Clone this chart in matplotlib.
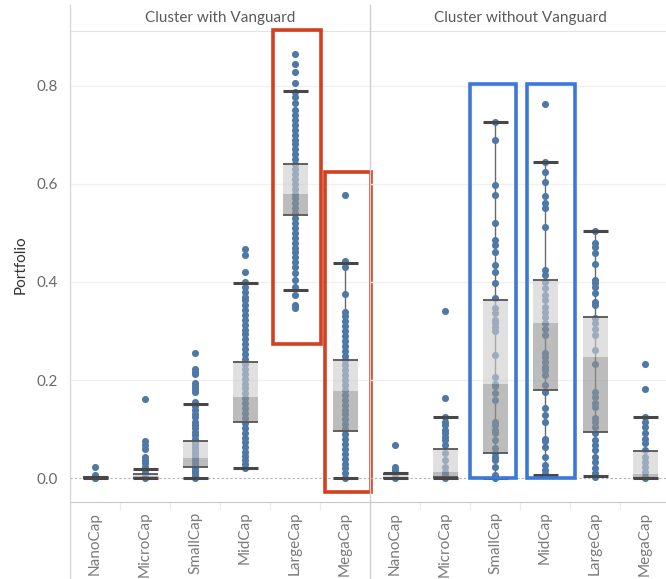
import matplotlib
matplotlib.use("Agg")
import matplotlib.pyplot as plt
from matplotlib.lines import Line2D
from matplotlib.patches import Rectangle

plt.rcParams['font.family'] = ['Lato', 'DejaVu Sans']

categories = ["NanoCap", "MicroCap", "SmallCap", "MidCap", "LargeCap", "MegaCap"]
panels = ["Cluster with Vanguard", "Cluster without Vanguard"]

# ---- Cluster with Vanguard: individual portfolio weights ----
with_nano = [0.022, 0.007, 0.002, 0.0, 0.0]
with_micro = [0.161, 0.075, 0.068, 0.059, 0.044, 0.037, 0.031, 0.024, 0.017, 0.010, 0.003, 0.0]
with_small = [0.255, 0.222, 0.217, 0.212, 0.195, 0.188, 0.182, 0.176, 0.156, 0.148, 0.139,
              0.131, 0.125, 0.115, 0.108, 0.102, 0.095, 0.088, 0.081, 0.075, 0.071, 0.066,
              0.061, 0.056, 0.051, 0.046, 0.041, 0.036, 0.031, 0.026, 0.020, 0.015, 0.010,
              0.005, 0.0]
with_mid = [0.468, 0.455, 0.421, 0.400, 0.390, 0.380, 0.370, 0.363, 0.353, 0.343, 0.333,
            0.323, 0.313, 0.303, 0.293, 0.283, 0.273, 0.263, 0.253, 0.243, 0.233, 0.223,
            0.213, 0.203, 0.193, 0.183, 0.173, 0.163, 0.153, 0.143, 0.133, 0.123, 0.113,
            0.103, 0.093, 0.083, 0.073, 0.063, 0.053, 0.045, 0.037, 0.029, 0.020]
with_large = [0.864, 0.844, 0.828, 0.806, 0.787, 0.777, 0.764, 0.750, 0.740, 0.730, 0.720,
              0.710, 0.700, 0.690, 0.680, 0.670, 0.660, 0.650, 0.640, 0.630, 0.620, 0.610,
              0.600, 0.590, 0.580, 0.570, 0.560, 0.550, 0.540, 0.530, 0.520, 0.510, 0.500,
              0.490, 0.480, 0.470, 0.460, 0.450, 0.440, 0.430, 0.418, 0.404, 0.390, 0.373,
              0.353, 0.347]
with_mega = [0.578, 0.443, 0.430, 0.375, 0.339, 0.330, 0.320, 0.310, 0.300, 0.290, 0.280,
             0.270, 0.260, 0.250, 0.240, 0.230, 0.220, 0.210, 0.200, 0.190, 0.180, 0.170,
             0.160, 0.150, 0.140, 0.130, 0.120, 0.110, 0.100, 0.090, 0.080, 0.070, 0.060,
             0.050, 0.040, 0.030, 0.020, 0.010, 0.0]

# ---- Cluster without Vanguard ----
without_nano = [0.068, 0.024, 0.017, 0.010, 0.003, 0.0]
without_micro = [0.341, 0.164, 0.125, 0.115, 0.108, 0.098, 0.092, 0.085, 0.078, 0.068,
                 0.051, 0.037, 0.024, 0.013, 0.007, 0.0]
without_small = [0.726, 0.690, 0.597, 0.576, 0.519, 0.485, 0.475, 0.461, 0.434, 0.421,
                 0.397, 0.367, 0.346, 0.336, 0.322, 0.316, 0.309, 0.299, 0.251, 0.207,
                 0.193, 0.187, 0.173, 0.159, 0.115, 0.108, 0.098, 0.092, 0.078, 0.061,
                 0.051, 0.044, 0.037, 0.024, 0.007, 0.0]
without_mid = [0.762, 0.645, 0.624, 0.604, 0.574, 0.560, 0.550, 0.511, 0.424, 0.414, 0.400,
               0.387, 0.373, 0.363, 0.349, 0.339, 0.329, 0.316, 0.305, 0.292, 0.255, 0.248,
               0.237, 0.227, 0.221, 0.210, 0.190, 0.176, 0.143, 0.129, 0.115, 0.081, 0.075,
               0.064, 0.044, 0.027, 0.017, 0.008]
without_large = [0.504, 0.479, 0.472, 0.458, 0.436, 0.404, 0.397, 0.390, 0.377, 0.360,
                 0.353, 0.326, 0.316, 0.305, 0.292, 0.261, 0.233, 0.176, 0.166, 0.153,
                 0.146, 0.122, 0.115, 0.105, 0.092, 0.078, 0.068, 0.058, 0.044, 0.034,
                 0.020, 0.010, 0.003]
without_mega = [0.232, 0.182, 0.125, 0.115, 0.105, 0.092, 0.081, 0.071, 0.058, 0.044,
                0.034, 0.024, 0.013, 0.003, 0.0]

with_points = [with_nano, with_micro, with_small, with_mid, with_large, with_mega]
without_points = [without_nano, without_micro, without_small, without_mid, without_large, without_mega]

# box statistics
with_whislo = [0.0, 0.0, 0.0, 0.020, 0.383, 0.0]
with_q1 = [0.0, 0.0, 0.024, 0.114, 0.536, 0.097]
with_med = [0.001, 0.004, 0.041, 0.165, 0.580, 0.178]
with_q3 = [0.002, 0.009, 0.075, 0.236, 0.640, 0.241]
with_whishi = [0.003, 0.018, 0.151, 0.398, 0.789, 0.439]

without_whislo = [0.0, 0.0, 0.0, 0.007, 0.005, 0.0]
without_q1 = [0.0, 0.002, 0.051, 0.180, 0.095, 0.0]
without_med = [0.003, 0.013, 0.193, 0.316, 0.248, 0.009]
without_q3 = [0.008, 0.060, 0.363, 0.404, 0.329, 0.056]
without_whishi = [0.010, 0.124, 0.726, 0.645, 0.504, 0.124]

yticks = [0.0, 0.2, 0.4, 0.6, 0.8]
ytick_labels = ["0.0", "0.2", "0.4", "0.6", "0.8"]

W, H = 666, 579
fig = plt.figure(figsize=(W / 100, H / 100), dpi=100)
fig.patch.set_facecolor("white")


def fx(px):
    return px / W


def fy(py):
    return 1 - py / H


top_px, bot_px = 31, 502
ax1 = fig.add_axes([fx(70), fy(bot_px), 300 / W, (bot_px - top_px) / H])
ax2 = fig.add_axes([fx(370), fy(bot_px), 300 / W, (bot_px - top_px) / H])

ylo, yhi = -(bot_px - 478.3) / 491, (478.3 - top_px) / 491

DOT = "#4e79a7"
for ax, pts, wl, q1, md, q3, wh in [
    (ax1, with_points, with_whislo, with_q1, with_med, with_q3, with_whishi),
    (ax2, without_points, without_whislo, without_q1, without_med, without_q3, without_whishi),
]:
    ax.set_facecolor("none")
    x = list(range(len(categories)))
    for yv in yticks[1:]:
        ax.axhline(yv, color="#f0f0f0", lw=1, zorder=0)
    ax.axhline(0, color="#b3b3b3", lw=0.8, ls=(0, (2, 2)), zorder=0.5)
    ax.vlines(x, wl, wh, color="#6a6a6a", lw=1.0, zorder=1)
    for i, p in enumerate(pts):
        ax.scatter([i] * len(p), p, s=26, color=DOT, linewidths=0, zorder=2)
    ax.bar(x, [m - a for m, a in zip(md, q1)], bottom=q1, width=0.5,
           color="#939393", alpha=0.62, zorder=3, linewidth=0)
    ax.bar(x, [b - m for b, m in zip(q3, md)], bottom=md, width=0.5,
           color="#cdcdcd", alpha=0.62, zorder=3, linewidth=0)
    for i in x:
        ax.hlines([q1[i], q3[i]], i - 0.25, i + 0.25, color="#555555", lw=1.3, zorder=4)
        ax.hlines([wl[i], wh[i]], i - 0.25, i + 0.25, color="#474747", lw=2.2, zorder=5)
    ax.set_xlim(-0.5, len(categories) - 0.5)
    ax.set_ylim(ylo, yhi)
    ax.set_xticks(x)
    ax.set_xticklabels(categories, rotation=90, fontsize=11, color="#7a7a7a")
    ax.set_xticks([i + 0.5 for i in x[:-1]], minor=True)
    ax.tick_params(axis="x", which="major", length=0, pad=7)
    ax.tick_params(axis="x", which="minor", length=6, color="#ececec", width=1)
    for s in ["left", "right"]:
        ax.spines[s].set_visible(False)
    ax.spines["top"].set_color("#e3e3e3")
    ax.spines["bottom"].set_color("#c8c8c8")

ax1.set_yticks(yticks)
ax1.set_yticklabels(ytick_labels, fontsize=11, color="#6a6a6a")
ax1.tick_params(axis="y", length=0, pad=9)
ax2.set_yticks(yticks)
ax2.tick_params(axis="y", length=0, labelleft=False)

# headers and axis title
fig.text(fx(220), fy(18), panels[0], ha="center", va="center", fontsize=11, color="#5a5a5a")
fig.text(fx(520), fy(18), panels[1], ha="center", va="center", fontsize=11, color="#5a5a5a")
fig.text(fx(21), fy(265), "Portfolio", rotation=90, ha="center", va="center", fontsize=11, color="#333333")

# frame lines
fig.add_artist(Line2D([fx(70), fx(70)], [fy(5), 0], color="#d9d9d9", lw=1))
fig.add_artist(Line2D([fx(370), fx(370)], [fy(5), 0], color="#d0d0d0", lw=1))

# highlight rectangles
RED, BLUE = "#d2401f", "#3c78d8"
for ax, (x0, x1, y0, y1), c in [
    (ax1, (3.566, 4.52, 0.273, 0.913), RED),
    (ax1, (4.60, 5.52, -0.027, 0.623), RED),
    (ax2, (1.494, 2.426, 0.001, 0.803), BLUE),
    (ax2, (2.646, 3.594, 0.001, 0.803), BLUE),
]:
    ax.add_patch(Rectangle((x0, y0), x1 - x0, y1 - y0, fill=False, ec=c, lw=2.6,
                           clip_on=False, zorder=10, joinstyle="miter"))

fig.savefig("out.png", dpi=100, facecolor="white")
